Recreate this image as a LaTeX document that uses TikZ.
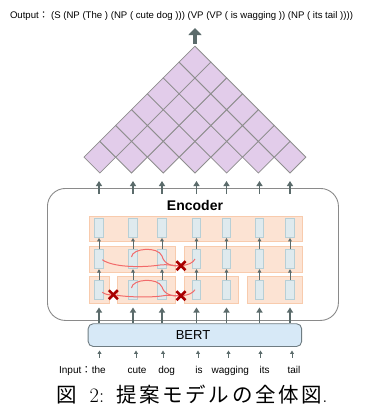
\documentclass[tikz,border=0pt]{standalone}
\usepackage{fontspec}
\setmainfont{Liberation Sans}
\newfontfamily\cjk{Noto Sans CJK JP}
\newfontfamily\cjkcap[LetterSpace=13]{Noto Sans CJK JP}
\newfontfamily\lmser{Latin Modern Roman}
\usetikzlibrary{arrows.meta}
\definecolor{arr}{HTML}{5B6B6B}
\definecolor{pyr}{HTML}{E2CCEA}
\definecolor{pyrline}{HTML}{8E8E8E}
\definecolor{rowfill}{HTML}{FCE3D3}
\definecolor{rowline}{HTML}{F8CBAD}
\definecolor{cellfill}{HTML}{DFEAEE}
\definecolor{cellline}{HTML}{B7CFD6}
\definecolor{curvecol}{HTML}{F26A6A}
\definecolor{crosscol}{HTML}{A80000}
\definecolor{bertfill}{HTML}{D7E9F7}
\definecolor{bertline}{HTML}{6F7C82}
\definecolor{encline}{HTML}{8A8A8A}
\tikzset{
  diam/.style={fill=pyr, draw=pyrline, line width=0.8pt, line join=miter},
  rowbox/.style={fill=rowfill, draw=rowline, line width=0.8pt},
  cellbox/.style={fill=cellfill, draw=cellline, line width=0.8pt, minimum width=8.5pt, minimum height=19pt, inner sep=0pt},
  rarr/.style={draw=arr, line width=1pt, -{Triangle[width=3.6pt,length=3.4pt]}},
  tarr/.style={draw=arr, line width=1.6pt, -{Triangle[width=6pt,length=5pt]}},
  iarr/.style={draw=arr, line width=0.8pt, -{Triangle[width=3.8pt,length=3.4pt]}},
  bigarr/.style={draw=arr, line width=4pt, -{Triangle[width=13pt,length=7pt]}},
  redcurve/.style={draw=curvecol, line width=1pt},
  crossline/.style={draw=crosscol, line width=2.6pt},
  word/.style={font=\fontsize{10}{12}\selectfont, inner sep=0pt, anchor=base}
}
\begin{document}
\begin{tikzpicture}[x=1pt,y=-1pt]
\useasboundingbox (0,0) rectangle (377,405);

% Output text
\node[inner sep=0pt, anchor=base, font=\fontsize{9.6}{11}\selectfont] (out) at (181.5,18.5)
  {Output{\cjk ：} (S (NP (The ) (NP ( cute dog ))) (VP (VP ( is wagging )) (NP ( its tail ))))};

% Pyramid
\def\hh{15.85}
\foreach \k in {0,...,6}{
  \pgfmathtruncatemacro\n{6-\k}
  \foreach \i in {0,...,\n}{
    \pgfmathsetmacro\cx{84+\hh+\hh*\k+2*\hh*\i}
    \pgfmathsetmacro\cy{173-\hh-\hh*\k}
    \draw[diam] (\cx,\cy-\hh) -- (\cx+\hh,\cy) -- (\cx,\cy+\hh) -- (\cx-\hh,\cy) -- cycle;
  }
}
\coordinate (apex) at (195,46);
\coordinate (outarrtip) at (195,28);
\draw[bigarr] (195,43.5) -- (outarrtip);

% Encoder box
\node[draw=encline, line width=0.9pt, rounded corners=18pt, minimum width=291pt, minimum height=132pt, inner sep=0pt, anchor=north west] (enc) at (47,188) {};
\node[inner sep=0pt, anchor=base, font=\fontsize{14}{16}\selectfont\bfseries] (enclabel) at (195,210) {Encoder};

% Rows
\draw[rowbox] (89.3,216.5) rectangle (302.7,241.7);
\draw[rowbox] (89.3,246) rectangle (175,272);
\draw[rowbox] (184,246) rectangle (302.7,272);
\draw[rowbox] (89.3,276) rectangle (109.3,303);
\draw[rowbox] (117.7,276) rectangle (175,303);
\draw[rowbox] (184,276) rectangle (238.3,303);
\draw[rowbox] (247.5,276) rectangle (302.7,303);

% Cells
\foreach \x [count=\j] in {99,133,162,196.5,226.5,259.5,290}{
  \node[cellbox] (ca\j) at (\x,228) {};
  \node[cellbox] (cb\j) at (\x,259.2) {};
  \node[cellbox] (cc\j) at (\x,290) {};
  \draw[rarr] (cc\j.north) -- (cb\j.south);
  \draw[rarr] (cb\j.north) -- (ca\j.south);
  \coordinate (tb\j) at (\x,194);
  \coordinate (tt\j) at (\x,181);
  \draw[tarr] (tb\j) -- (tt\j);
}

% BERT
\node[draw=bertline, fill=bertfill, line width=0.9pt, rounded corners=5pt, minimum width=213.5pt, minimum height=22.7pt, inner sep=0pt, anchor=north west] (bert) at (87.7,323.3) {};
\node[inner sep=0pt, anchor=base, font=\fontsize{13}{15}\selectfont] (bertlabel) at (193,339.5) {BERT};
\foreach \x [count=\j] in {99,133,162,196.5,226.5,259.5,290}{
  \coordinate (bt\j) at (\x,307.5);
  \draw[tarr] (bert.north -| cc\j) -- (bt\j);
}

% Red curves row 2
\draw[redcurve] (102.3,259.7) .. controls (112,267) and (140,268) .. (160,265) .. controls (168,264) and (175,266) .. (181,265.7);
\draw[redcurve] (181,265.7) .. controls (188,265) and (193,263) .. (195,259);
\draw[redcurve] (131.5,257) .. controls (132,248) and (158,246) .. (162,256) .. controls (164,264) and (172,267) .. (181,265.7);
% Red curves row 3
\draw[redcurve] (102.3,292.3) .. controls (106,295) and (110,295) .. (113.3,294.7) .. controls (125,297) and (150,298) .. (165,295.5) .. controls (172,295) and (177,296) .. (181,295.7);
\draw[redcurve] (181,295.7) .. controls (188,295.5) and (193,293) .. (195,289.7);
\draw[redcurve] (131.5,288) .. controls (132,279) and (158,277) .. (162,287) .. controls (164,294) and (172,297) .. (181,295.7);

% Crosses
\foreach \cxx/\cyy [count=\m] in {181/265.7, 113.3/294.7, 181/295.7}{
  \coordinate (x\m) at (\cxx,\cyy);
  \draw[crossline] ([shift={(-4.5,-4.5)}]x\m) -- ([shift={(4.5,4.5)}]x\m);
  \draw[crossline] ([shift={(-4.5,4.5)}]x\m) -- ([shift={(4.5,-4.5)}]x\m);
}

% Input arrows and words
\foreach \x/\w [count=\j] in {99.5/the,136/cute,163/dog,198/is,228.5/wagging,260.5/its,292/tail}{
  \coordinate (ib\j) at (\x,357.5);
  \coordinate (it\j) at (\x,350.5);
  \draw[iarr] (ib\j) -- (it\j);
}
\node[word] (w1) at (98.7,373) {the};
\node[word] (w2) at (137,373) {cute};
\node[word] (w3) at (166.7,373) {dog};
\node[word] (w4) at (199,373) {is};
\node[word] (w5) at (230.3,373) {wagging};
\node[word] (w6) at (264.7,373) {its};
\node[word] (w7) at (294,373) {tail};
\node[word, anchor=base east] (inp) at (w1.base west) {Input{\cjk ：}};

% Caption
\node[inner sep=0pt, anchor=base, font=\cjk\fontsize{20.5}{22}\selectfont] (cap1) at (66.7,402) {図};
\node[inner sep=0pt, anchor=base, font=\lmser\fontsize{20.5}{22}\selectfont] (cap2) at (97,402) {2:};
\node[inner sep=0pt, anchor=base west, font=\cjkcap\fontsize{20.5}{22}\selectfont] (cap3) at (116,402) {提案モデルの全体図};
\node[inner sep=0pt, anchor=base west, font=\lmser\fontsize{20.5}{22}\selectfont] (cap4) at (cap3.base east) {.};
\end{tikzpicture}
\end{document}
